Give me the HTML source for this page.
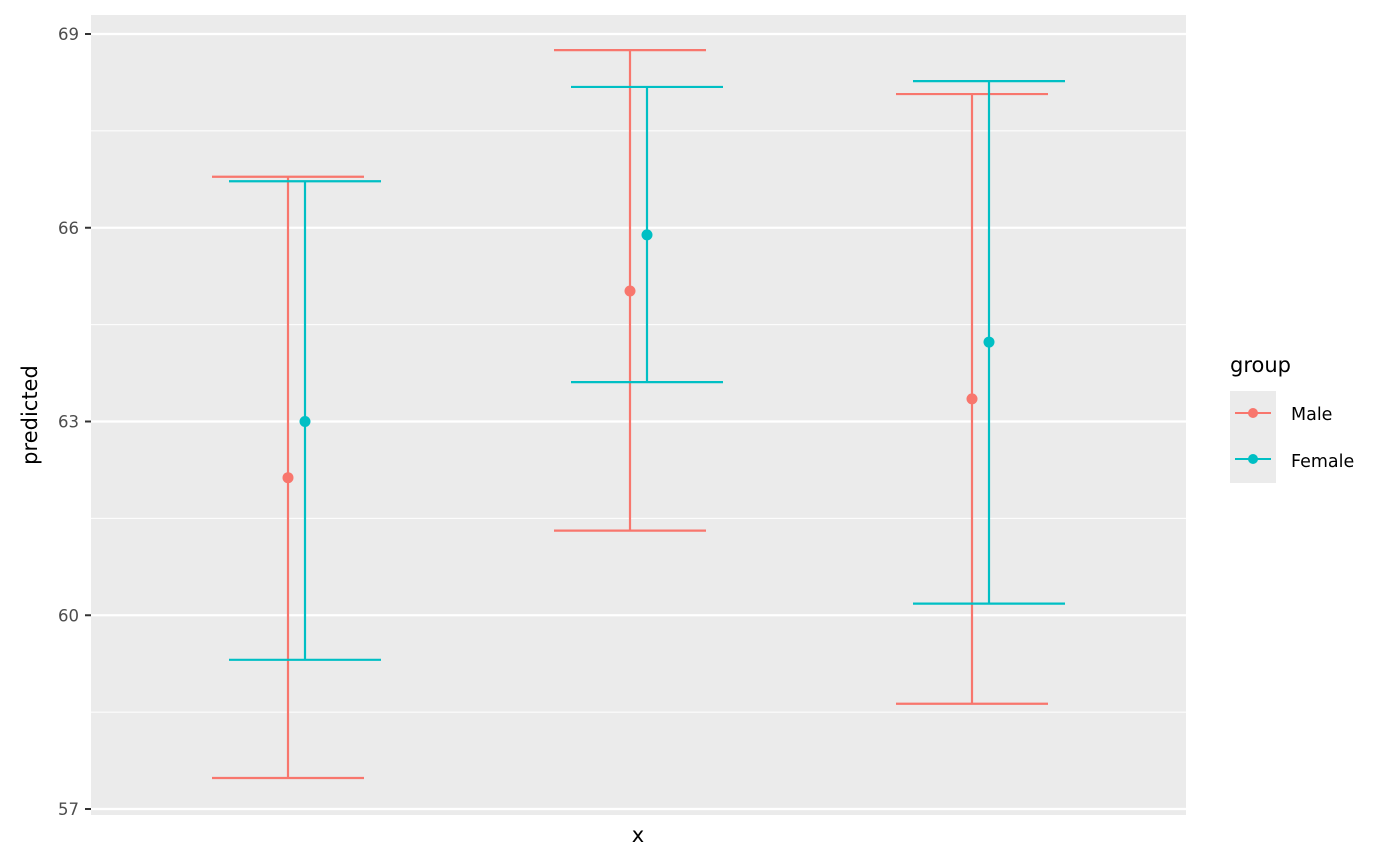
<!DOCTYPE html>
<html><head><meta charset="utf-8"><style>
body{margin:0;background:#fff;}
svg{display:block;font-family:"DejaVu Sans","Liberation Sans",sans-serif;}
</style></head><body>
<svg id="chart" width="1400" height="866">
<rect x="91" y="15" width="1095" height="800" fill="#ebebeb"/>
<g id="grid"></g>
<g id="marks"></g>
<g id="axis"></g>
<text x="638" y="842" font-size="21" text-anchor="middle">x</text>
<text transform="translate(37,415) rotate(-90)" font-size="21" text-anchor="middle">predicted</text>
<g>
<text x="1230" y="372" font-size="21">group</text>
<rect x="1230" y="391" width="46" height="92" fill="#ebebeb"/>
<g>
<line x1="1235" x2="1271" y1="413" y2="413" stroke="#F8766D" stroke-width="2"/><circle cx="1253" cy="413" r="5" fill="#F8766D"/>
<text x="1291" y="420" font-size="17.5">Male</text></g>
<g>
<line x1="1235" x2="1271" y1="459" y2="459" stroke="#00BFC4" stroke-width="2"/><circle cx="1253" cy="459" r="5" fill="#00BFC4"/>
<text x="1291" y="467" font-size="17.5">Female</text></g>
</g>
</svg>
<script>
const groups = ["Male","Female"];
const categories = ["1","2","3"];
const maleValues = [62.13, 65.02, 63.35];
const maleLower = [57.48, 61.31, 58.63];
const maleUpper = [66.79, 68.75, 68.07];
const femaleValues = [63.0, 65.89, 64.23];
const femaleLower = [59.31, 63.61, 60.18];
const femaleUpper = [66.72, 68.18, 68.27];
const yTicks = [57, 60, 63, 66, 69];

const NS = "http://www.w3.org/2000/svg";
const y = v => 809 - (v - 57) * (775 / 12);
const x = i => 288 + i * 342;
const colors = ["#F8766D", "#00BFC4"];
const offsets = [0, 17];
function mk(tag, attrs, parent){const e=document.createElementNS(NS,tag);for(const k in attrs)e.setAttribute(k,attrs[k]);parent.appendChild(e);return e;}
const grid = document.getElementById("grid"), axis = document.getElementById("axis"), marks = document.getElementById("marks");
for (let t = 0; t < yTicks.length; t++) {
  const v = yTicks[t];
  const gl = mk("line",{x1:91,x2:1186,y1:y(v),y2:y(v),stroke:"#fff","stroke-width":2.2},grid);
  
  
  if (t < yTicks.length - 1) {
    const m = (v + yTicks[t+1]) / 2;
    const ml = mk("line",{x1:91,x2:1186,y1:y(m),y2:y(m),stroke:"#fff","stroke-width":1.1},grid);
    
    
  }
  const tk = mk("line",{x1:85,x2:91,y1:y(v),y2:y(v),stroke:"#333","stroke-width":2},axis);
  
  
  const tl = mk("text",{x:79,y:y(v)+6,"font-size":16.5,fill:"#4d4d4d","text-anchor":"end"},axis);
  tl.textContent = v;
  
  
}
const series = [[maleValues, maleLower, maleUpper],[femaleValues, femaleLower, femaleUpper]];
series.forEach((s, g) => {
  categories.forEach((c, i) => {
    const cx = x(i) + offsets[g];
    const grp = mk("g",{stroke:colors[g],"stroke-width":2.2},marks);
    
    
    mk("line",{x1:cx,x2:cx,y1:y(s[1][i]),y2:y(s[2][i])},grp);
    mk("line",{x1:cx-76,x2:cx+76,y1:y(s[1][i]),y2:y(s[1][i])},grp);
    mk("line",{x1:cx-76,x2:cx+76,y1:y(s[2][i]),y2:y(s[2][i])},grp);
    const pt = mk("circle",{cx:cx,cy:y(s[0][i]),r:5.5,fill:colors[g],stroke:"none"},marks);
    
    
  });
});
</script>
</body></html>
